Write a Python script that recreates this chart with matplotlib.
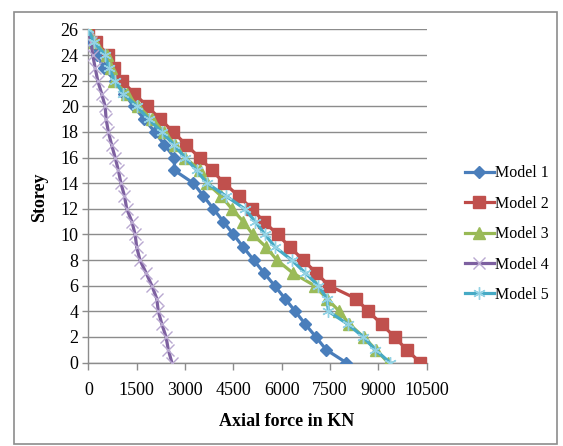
import numpy as np
import matplotlib.pyplot as plt
from matplotlib.patches import Rectangle

plt.rcParams['font.family'] = ['Liberation Serif', 'DejaVu Serif']

storey = list(range(27))

# axial force in KN for storey 0..26
model1 = [8000, 7380, 7060, 6730, 6420, 6100, 5780, 5450, 5130, 4810, 4500, 4190, 3880, 3570,
          3260, 2670, 2670, 2360, 2060, 1740, 1400, 1120, 830, 470, 280, 120, 0]
model2 = [10300, 9880, 9500, 9100, 8690, 8300, 7470, 7070, 6670, 6260, 5870, 5450, 5070, 4660,
          4220, 3830, 3450, 3030, 2640, 2230, 1830, 1420, 1040, 800, 620, 230, 0]
model3 = [9300, 8930, 8540, 8100, 7790, 7400, 7020, 6340, 5850, 5520, 5100, 4810, 4450, 4120,
          3680, 3470, 3000, 2690, 2350, 1980, 1530, 1190, 780, 690, 570, 200, 0]
model4 = [2590, 2480, 2410, 2280, 2170, 2120, 1970, 1790, 1600, 1500, 1450, 1350, 1190, 1120,
          1010, 930, 830, 720, 620, 550, 520, 410, 290, 210, 135, 85, 0]
model5 = [9360, 8900, 8530, 8050, 7450, 7400, 7140, 6730, 6310, 5800, 5480, 5180, 4850, 4270,
          3680, 3360, 3000, 2650, 2280, 1870, 1500, 1080, 820, 640, 520, 170, 0]

labels = ['Model 1', 'Model 2', 'Model 3', 'Model 4', 'Model 5']
xticks = [0, 1500, 3000, 4500, 6000, 7500, 9000, 10500]
yticks = list(range(0, 27, 2))

fig = plt.figure(figsize=(5.63, 4.46), dpi=100)
ax = fig.add_axes([0.157, 0.187, 0.601, 0.747])

# outer chart border
fig.patches.append(Rectangle((0.025, 0.005), 0.964, 0.969, transform=fig.transFigure,
                             fill=False, edgecolor='#8c8c8c', lw=1.2))

ax.plot(model1, storey, color='#4A7EBB', lw=2.3, marker='D', ms=6.5,
        mfc='#4A7EBB', mec='#4A7EBB', label=labels[0], zorder=3)
ax.plot(model2, storey, color='#BE4B48', lw=2.3, marker='s', ms=8.5,
        mfc='#C0504D', mec='#C0504D', label=labels[1], zorder=3)
ax.plot(model3, storey, color='#98B954', lw=2.3, marker='^', ms=8.5,
        mfc='#9BBB59', mec='#9BBB59', label=labels[2], zorder=3)
ax.plot(model4, storey, color='#7D60A0', lw=2.3, marker='x', ms=8,
        mfc='#B9A8D0', mec='#B9A8D0', mew=1.0, label=labels[3], zorder=3)
ax.plot(model5, storey, color='#46AAC5', lw=2.3, marker=(6, 2, 0), ms=9,
        mfc='#93D2E4', mec='#93D2E4', mew=1.0, label=labels[4], zorder=4)

ax.set_xlim(0, 10500)
ax.set_ylim(0, 26)
ax.set_xticks(xticks)
ax.set_yticks(yticks)
ax.tick_params(axis='both', labelsize=13, colors='#8c8c8c', labelcolor='black',
               length=5, width=1)
ax.tick_params(axis='x', pad=9)
ax.tick_params(axis='y', length=4, pad=3)
ax.yaxis.grid(True, color='#8c8c8c', lw=1)
ax.set_axisbelow(True)
for s in ['top', 'right']:
    ax.spines[s].set_visible(False)
for s in ['left', 'bottom']:
    ax.spines[s].set_color('#8c8c8c')
    ax.spines[s].set_linewidth(1)

fig.text(287 / 563, 1 - 422 / 446, 'Axial force in KN', fontsize=13, fontweight='bold',
         ha='center', va='center')
fig.text(40 / 563, 1 - 197 / 446, 'Storey', fontsize=13, fontweight='bold',
         ha='center', va='center', rotation=90)

ax.legend(loc='center left', bbox_to_anchor=(0.826, 0.475), bbox_transform=fig.transFigure,
          frameon=False, fontsize=11.5, handlelength=1.8, handletextpad=0.1,
          labelspacing=0.9, borderpad=0, borderaxespad=0)

fig.savefig('out.png', dpi=100)
